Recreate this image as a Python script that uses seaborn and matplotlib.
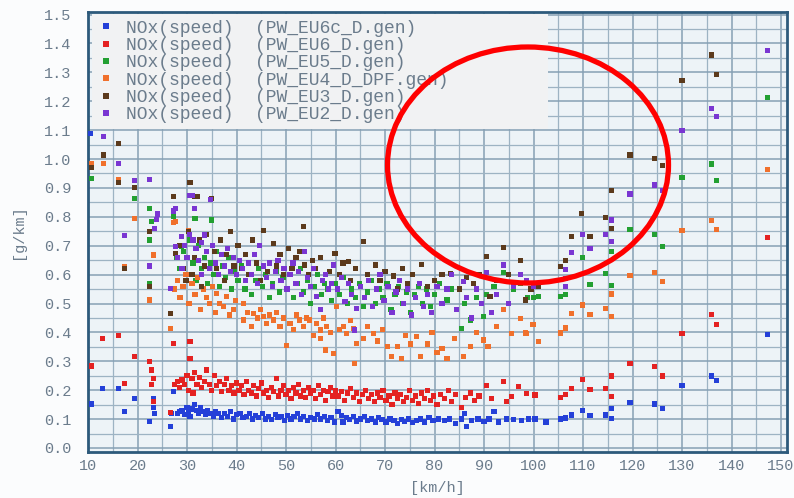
import matplotlib
matplotlib.use("Agg")
import matplotlib.pyplot as plt
import pandas as pd
import seaborn as sns
from matplotlib.patches import Ellipse
from matplotlib.ticker import MultipleLocator, FormatStrFormatter

series_names = [
    "NOx(speed)  (PW_EU6c_D.gen)",
    "NOx(speed)  (PW_EU6_D.gen)",
    "NOx(speed)  (PW_EU5_D.gen)",
    "NOx(speed)  (PW_EU4_D_DPF.gen)",
    "NOx(speed)  (PW_EU3_D.gen)",
    "NOx(speed)  (PW_EU2_D.gen)",
]
series_colors = ["#2440d8", "#e42222", "#23a032", "#f0702c", "#5c3a1c", "#7a36d2"]

# (speed km/h, NOx g/km)
eu6c = [
    (10.5, 1.089), (10.7, 0.152), (12.9, 0.207), (16.1, 0.207), (17.3, 0.126), (19.4, 0.172),
    (22.5, 0.091), (23.2, 0.17), (23.2, 0.14), (23.5, 0.12), (26.6, 0.074), (27.2, 0.195), (26.8, 0.118),
    (28, 0.12), (28.5, 0.125), (29, 0.13), (29.5, 0.115), (30, 0.14), (30.3, 0.125), (30.6, 0.11),
    (31, 0.135), (31.5, 0.15), (32, 0.13), (32.3, 0.12), (32.8, 0.14), (33.2, 0.125), (33.8, 0.115),
    (34.2, 0.13), (34.8, 0.12), (35.3, 0.11), (35.8, 0.125), (36.4, 0.118), (37, 0.105), (37.5, 0.12),
    (38.2, 0.11), (38.8, 0.125), (39.4, 0.1), (40, 0.115),
    (40.7, 0.12), (41.3, 0.105), (42, 0.11), (42.6, 0.118), (43.2, 0.1), (43.9, 0.112), (44.5, 0.105),
    (45.2, 0.12), (45.8, 0.1), (46.5, 0.11), (47.1, 0.098), (47.8, 0.115), (48.4, 0.105), (49, 0.11),
    (49.7, 0.095), (50.3, 0.112), (51, 0.1), (51.6, 0.108), (52.3, 0.118), (53, 0.1), (53.6, 0.11),
    (54.3, 0.095), (55, 0.105), (55.7, 0.1), (56.3, 0.115), (57, 0.1), (57.7, 0.108), (58.4, 0.095),
    (59.1, 0.105), (59.8, 0.09),
    (60.5, 0.125), (61.2, 0.112), (61.5, 0.09), (62.2, 0.105), (62.9, 0.098), (63.6, 0.11), (64.3, 0.093),
    (65, 0.1), (65.8, 0.108), (66.5, 0.095), (67.2, 0.1), (68, 0.09), (68.7, 0.105), (69.4, 0.098),
    (70.2, 0.09), (71, 0.1), (71.8, 0.095), (72.6, 0.085), (73.3, 0.098), (74, 0.092), (74.8, 0.1),
    (75.6, 0.088), (76.4, 0.095), (77.2, 0.1), (78, 0.09), (78.9, 0.105), (79.7, 0.095),
    (80.8, 0.1), (82, 0.095), (83, 0.1), (84.2, 0.085), (85.5, 0.1), (86, 0.12), (86.5, 0.073),
    (87.5, 0.095), (88.8, 0.1), (90, 0.092), (91, 0.1), (92, 0.125), (93, 0.09), (94.5, 0.1),
    (96, 0.098), (97.5, 0.095), (99, 0.1), (100.3, 0.1),
    (102.5, 0.09), (105.4, 0.1), (106.4, 0.104), (107.6, 0.114), (109.9, 0.129), (111.4, 0.111),
    (114.6, 0.114), (115.8, 0.137), (115.8, 0.103), (119.5, 0.158), (124.5, 0.152), (126.1, 0.137),
    (130, 0.215), (136, 0.249), (137, 0.233), (147.2, 0.393),
]
eu6 = [
    (10.7, 0.284), (12.9, 0.38), (16.1, 0.388), (17.3, 0.224), (19.4, 0.316), (22.5, 0.3), (22.8, 0.27),
    (23.2, 0.24), (22.8, 0.22), (23.2, 0.16), (26.6, 0.122), (27.2, 0.362), (30.6, 0.368),
    (27.5, 0.22), (28, 0.23), (28.5, 0.21), (29, 0.235), (29.5, 0.22), (30, 0.25), (30.3, 0.2),
    (30.6, 0.31), (31, 0.24), (31.2, 0.19), (31.5, 0.26), (32, 0.22), (32.5, 0.245), (33, 0.21),
    (33.5, 0.23), (34, 0.27), (34.5, 0.22), (35, 0.2), (35.5, 0.25), (36, 0.215), (36.5, 0.23),
    (37, 0.195), (37.5, 0.22), (38, 0.24), (38.5, 0.2), (39, 0.215), (39.5, 0.19), (40, 0.225),
    (40.5, 0.2), (41, 0.215), (41.5, 0.185), (42, 0.23), (42.5, 0.2), (43, 0.19), (43.5, 0.215),
    (44, 0.18), (44.5, 0.205), (45, 0.225), (45.5, 0.19), (46, 0.2), (46.5, 0.175), (47, 0.21),
    (47.5, 0.195), (48, 0.24), (48.5, 0.18), (49, 0.2), (49.5, 0.215), (50, 0.185), (50.5, 0.2),
    (51, 0.17), (51.5, 0.21), (52, 0.19), (52.5, 0.22), (53, 0.18), (53.5, 0.2), (54, 0.175),
    (54.5, 0.21), (55, 0.19), (55.5, 0.2), (56, 0.17), (56.5, 0.215), (57, 0.185), (57.5, 0.2),
    (58, 0.165), (58.5, 0.195), (59, 0.21), (59.5, 0.18),
    (60, 0.2), (60.6, 0.18), (61.2, 0.195), (61.8, 0.165), (62.4, 0.19), (63, 0.205), (63.6, 0.175),
    (64.2, 0.19), (64.8, 0.16), (65.4, 0.185), (66, 0.2), (66.6, 0.17), (67.2, 0.185), (67.8, 0.16),
    (68.4, 0.19), (69, 0.175), (69.6, 0.2), (70.2, 0.165), (70.8, 0.18), (71.4, 0.15), (72, 0.19),
    (72.6, 0.17), (73.2, 0.185), (73.8, 0.16), (74.4, 0.175), (75, 0.2), (75.6, 0.165), (76.2, 0.18),
    (76.8, 0.155), (77.4, 0.19), (78, 0.17), (78.6, 0.2), (79.2, 0.165), (79.8, 0.18),
    (80.5, 0.15), (81.2, 0.185), (82, 0.17), (82.8, 0.2), (83.5, 0.16), (84.3, 0.185), (85.5, 0.14),
    (86.3, 0.175), (87.2, 0.19), (88, 0.165), (89, 0.18), (90.5, 0.216), (91.5, 0.17), (93.9, 0.23),
    (94.5, 0.16), (95.6, 0.178), (96.9, 0.212), (98.6, 0.189), (100.3, 0.183),
    (105.4, 0.176), (106.4, 0.184), (107.6, 0.206), (109.9, 0.238), (111.4, 0.203), (114.6, 0.206),
    (115.8, 0.249), (115.8, 0.178), (119.5, 0.293), (124.5, 0.281), (126.1, 0.249), (130, 0.397),
    (136, 0.463), (137, 0.426), (147.2, 0.728),
]
eu5 = [
    (10.7, 0.933), (19.4, 0.864), (22.5, 0.829), (22.8, 0.785), (22.5, 0.72), (22.5, 0.57), (27.2, 0.8),
    (28.9, 0.697), (31.6, 0.795), (35, 0.789),
    (27.8, 0.66), (28.5, 0.62), (29.3, 0.68), (30, 0.6), (30.6, 0.72), (31.2, 0.64), (31.8, 0.58),
    (32.4, 0.7), (33, 0.62), (33.6, 0.66), (34.2, 0.57), (34.8, 0.64), (35.4, 0.6), (36, 0.68),
    (36.6, 0.56), (37.2, 0.63), (37.8, 0.59), (38.4, 0.66), (39, 0.55), (39.6, 0.61),
    (40.3, 0.58), (41, 0.63), (41.7, 0.55), (42.4, 0.6), (43.1, 0.53), (43.8, 0.58), (44.5, 0.62),
    (45.2, 0.56), (45.9, 0.6), (46.6, 0.52), (47.3, 0.57), (48, 0.61), (48.7, 0.54), (49.4, 0.59),
    (50.1, 0.55), (50.8, 0.6), (51.5, 0.52), (52.2, 0.57), (52.9, 0.62), (53.6, 0.54), (54.3, 0.58),
    (55, 0.5), (55.7, 0.56), (56.4, 0.6), (57.1, 0.53), (57.8, 0.57), (58.5, 0.55), (59.2, 0.51),
    (60, 0.57), (60.8, 0.53), (61.6, 0.59), (62.4, 0.5), (63.2, 0.55), (64, 0.52), (64.8, 0.57),
    (65.6, 0.49), (66.4, 0.54), (67.2, 0.58), (68, 0.5), (68.8, 0.55), (69.6, 0.52), (70.4, 0.57),
    (71.2, 0.48), (72, 0.53), (72.8, 0.56), (73.6, 0.5), (74.4, 0.54), (75.2, 0.47), (76, 0.53),
    (76.8, 0.56), (77.6, 0.5), (78.4, 0.55), (79.2, 0.49),
    (80, 0.53), (81, 0.57), (82.5, 0.512), (83.5, 0.55), (85.5, 0.414), (86, 0.5), (87.2, 0.443),
    (88.5, 0.52), (89.9, 0.454), (90.5, 0.53), (92, 0.56), (93.9, 0.607), (95, 0.5), (96, 0.55),
    (97.3, 0.57), (98.8, 0.52), (100, 0.52), (101, 0.525),
    (105.4, 0.524), (106.4, 0.53), (109.9, 0.66), (111.4, 0.567), (114.6, 0.604), (115.8, 0.679),
    (115.8, 0.561), (119.5, 0.757), (124.5, 0.74), (126.1, 0.697), (130, 0.937), (136, 0.983),
    (137, 0.927), (147.2, 1.212),
]
eu4_dpf = [
    (10.7, 0.983), (13.1, 0.985), (16.1, 0.93), (19.4, 0.795), (17.3, 0.627), (23.2, 0.668),
    (22.5, 0.512), (26.6, 0.414), (27.2, 0.78), (27.6, 0.783), (30.3, 0.754),
    (27.5, 0.55), (28, 0.58), (28.6, 0.52), (29.2, 0.56), (29.8, 0.6), (30.4, 0.5), (31, 0.57),
    (31.6, 0.53), (32.2, 0.59), (32.8, 0.48), (33.4, 0.55), (34, 0.52), (34.6, 0.5), (35.2, 0.56),
    (35.8, 0.47), (36, 0.535), (36.6, 0.5), (37.3, 0.489), (38, 0.524), (38.6, 0.46), (39.4, 0.478),
    (39.8, 0.51),
    (41.4, 0.5), (41.4, 0.443), (42.2, 0.47), (43, 0.42), (43.4, 0.466), (44.2, 0.45), (44.8, 0.48),
    (45.4, 0.454), (46, 0.43), (46.7, 0.46), (47.4, 0.443), (48, 0.47), (48.8, 0.42), (49.5, 0.45),
    (50.1, 0.356), (50.8, 0.431), (51.5, 0.41), (52.1, 0.46), (52.8, 0.443), (53.5, 0.42), (54.1, 0.45),
    (54.8, 0.443), (55.5, 0.39), (56.2, 0.43), (56.9, 0.408), (56.9, 0.38), (57.6, 0.45), (57.9, 0.339),
    (58.2, 0.42), (59, 0.4), (59.6, 0.328), (60.2, 0.489), (60.8, 0.41), (61.6, 0.42), (62.2, 0.397),
    (63, 0.44), (63.6, 0.414), (63.9, 0.293), (64.3, 0.362),
    (65.6, 0.38), (66.4, 0.42), (67.6, 0.397), (68.5, 0.37), (69.5, 0.41), (70.5, 0.35), (71.3, 0.316),
    (72.5, 0.35), (73.3, 0.31), (74.2, 0.39), (75.2, 0.36), (76.4, 0.385), (77.1, 0.316), (78.5, 0.36),
    (79.5, 0.4), (80.5, 0.33), (81.5, 0.345), (82.5, 0.31), (84, 0.38), (85.8, 0.316), (87.2, 0.35),
    (88.5, 0.4), (89.9, 0.374), (90.8, 0.35), (92.5, 0.42), (93.9, 0.48), (95.6, 0.397), (97.3, 0.449),
    (98.3, 0.398), (98.6, 0.397), (99.9, 0.426), (101, 0.368),
    (105.4, 0.398), (106.4, 0.415), (107.6, 0.466), (109.9, 0.495), (111.4, 0.463), (114.6, 0.483),
    (115.8, 0.454), (115.8, 0.533), (119.5, 0.598), (124.5, 0.607), (126.1, 0.576), (130, 0.752),
    (136, 0.787), (137, 0.757), (147.2, 0.964),
]
eu3 = [
    (10.7, 0.97), (13.1, 1.014), (16.1, 1.054), (16.1, 0.92), (19.4, 0.902), (17.3, 0.62), (22.5, 0.75),
    (22.5, 0.56), (26.6, 0.466), (27.2, 0.87), (27.6, 0.674), (30.6, 0.92), (31.6, 0.87), (32, 0.87),
    (34.8, 0.86), (35, 0.864),
    (28.5, 0.7), (29.2, 0.62), (29.8, 0.58), (30.3, 0.75), (31, 0.6), (31.5, 0.66), (32.5, 0.72),
    (33, 0.56), (33.5, 0.63), (34, 0.74), (35.5, 0.68), (36, 0.62), (36.8, 0.72), (37.5, 0.58),
    (38, 0.67), (38.8, 0.75), (39.5, 0.63),
    (40.3, 0.7), (41, 0.62), (41.8, 0.67), (42.5, 0.6), (43.3, 0.72), (44, 0.64), (44.8, 0.58),
    (45.4, 0.754), (46.3, 0.61), (47.4, 0.708), (48, 0.63), (48.8, 0.67), (49.5, 0.6), (50.5, 0.691),
    (51.2, 0.62), (52, 0.66), (52.8, 0.68), (53.5, 0.766), (53.8, 0.633), (54.5, 0.6), (55.3, 0.65),
    (56, 0.62), (57, 0.66), (58.8, 0.61), (59.9, 0.674), (60.8, 0.6), (61.5, 0.64), (62.6, 0.645),
    (63, 0.58), (64, 0.62), (65.6, 0.714),
    (66.5, 0.6), (68, 0.633), (69, 0.58), (70, 0.61), (71.7, 0.595), (72.5, 0.55), (73.5, 0.62),
    (74.5, 0.57), (75.5, 0.6), (77.4, 0.636), (78.5, 0.56), (80, 0.58), (81.5, 0.6), (83.3, 0.604),
    (85, 0.55), (86.5, 0.59), (87.8, 0.57), (89, 0.6), (90.5, 0.662), (91.2, 0.524), (92.5, 0.58),
    (93.9, 0.694), (95, 0.6), (97.3, 0.648), (98.3, 0.512), (99.5, 0.55), (101, 0.56),
    (105.4, 0.627), (106.4, 0.648), (107.6, 0.731), (109.7, 0.812), (111.4, 0.731), (114.6, 0.798),
    (115.8, 0.76), (115.8, 0.89), (119.5, 1.014), (124.5, 1.002), (126.1, 0.979), (130, 1.273),
    (136, 1.36), (137, 1.294),
]
eu2 = [
    (13.1, 1.077), (16.1, 0.985), (19.4, 0.925), (22.5, 0.93), (17.3, 0.734), (24, 0.81), (23.8, 0.79),
    (23.5, 0.76), (22.5, 0.63), (26.6, 0.553), (27.2, 0.82), (27.6, 0.829), (30.6, 0.875), (31, 0.875),
    (31.5, 0.829), (33.6, 0.737), (34.8, 0.86), (28.9, 0.731), (27.6, 0.697),
    (28, 0.66), (29, 0.62), (29.5, 0.7), (30, 0.66), (30.5, 0.74), (31.2, 0.72), (31.8, 0.69),
    (32.4, 0.65), (33, 0.71), (33, 0.6), (34, 0.68), (34.5, 0.62), (35.2, 0.7), (35.8, 0.64),
    (36.4, 0.6), (37, 0.67), (37.6, 0.63), (38.2, 0.69), (38.8, 0.61), (39.4, 0.66), (40, 0.6),
    (40.6, 0.65), (41.2, 0.62), (41.8, 0.58), (42.4, 0.64), (43, 0.6), (43.6, 0.67), (44.2, 0.57),
    (44.7, 0.702), (45.4, 0.63), (46, 0.59), (46.6, 0.64), (47.2, 0.56), (47.8, 0.61), (48.4, 0.65),
    (49, 0.58), (49.6, 0.62), (50.2, 0.55), (50.8, 0.6), (51.4, 0.64), (52, 0.57), (52.6, 0.61),
    (53.2, 0.53), (53.8, 0.679), (54.4, 0.59), (55, 0.56), (55.6, 0.62), (56.2, 0.524), (56.9, 0.478),
    (57.4, 0.58), (58, 0.6), (58.6, 0.55), (59.2, 0.57), (59.6, 0.633),
    (60.4, 0.55), (61.2, 0.59), (61.9, 0.506), (62.6, 0.57), (63.3, 0.53), (64.3, 0.483), (63.9, 0.408),
    (65, 0.56), (65.8, 0.52), (66.6, 0.58), (67.4, 0.49), (68.2, 0.55), (69, 0.6), (69.8, 0.51),
    (70.6, 0.56), (71.4, 0.47), (72.2, 0.54), (73, 0.58), (73.8, 0.5), (74.6, 0.55), (75.4, 0.46),
    (76.2, 0.52), (77, 0.57), (77.8, 0.49), (78.6, 0.53), (79.4, 0.47),
    (80.5, 0.56), (81.5, 0.5), (82.5, 0.55), (83.5, 0.6), (84.5, 0.48), (85.8, 0.576), (86.5, 0.52),
    (87.5, 0.45), (88.5, 0.55), (89.5, 0.5), (90.5, 0.607), (91.5, 0.47), (92.5, 0.53), (93.9, 0.633),
    (95, 0.5), (96, 0.56), (97.3, 0.6), (98.5, 0.58), (100, 0.56),
    (106.4, 0.558), (106.4, 0.587), (106.5, 0.618), (107.6, 0.677), (109.9, 0.74), (111.4, 0.691),
    (114.6, 0.74), (115.8, 0.715), (115.8, 0.789), (119.5, 0.879), (124.5, 0.91), (126.1, 0.89),
    (130, 1.10), (136, 1.175), (137, 1.146), (147.2, 1.377),
]

frames = []
for name, pts in zip(series_names, [eu6c, eu6, eu5, eu4_dpf, eu3, eu2]):
    d = pd.DataFrame(pts, columns=["speed", "nox"])
    d["vehicle"] = name
    frames.append(d)
data = pd.concat(frames, ignore_index=True)

sns.set_style("white")
plt.rcParams["font.family"] = ["Liberation Mono", "DejaVu Sans Mono"]

text_col = "#6b7c8c"
frame_col = "#2d5a7b"

fig = plt.figure(figsize=(7.94, 4.98), dpi=100, facecolor="#fbfcfd")
ax = fig.add_axes([88 / 794, 1 - 452 / 498, 699 / 794, 440 / 498])
ax.set_facecolor("#edf3f7")

sns.scatterplot(data=data, x="speed", y="nox", hue="vehicle", hue_order=series_names,
                palette=series_colors, marker="s", s=14, linewidth=0, ax=ax, zorder=3)

ax.set_xlim(10, 151.2)
ax.set_ylim(-0.014, 1.509)
ax.xaxis.set_major_locator(MultipleLocator(10))
ax.xaxis.set_minor_locator(MultipleLocator(5))
ax.yaxis.set_major_locator(MultipleLocator(0.1))
ax.yaxis.set_minor_locator(MultipleLocator(0.05))
ax.yaxis.set_major_formatter(FormatStrFormatter("%.1f"))
ax.set_axisbelow(True)
ax.grid(which="major", color="#86a0b4", linewidth=1.1)
ax.grid(which="minor", color="#9db3c3", linewidth=0.9)
ax.tick_params(which="both", direction="in", color=frame_col, labelcolor=text_col, labelsize=11)
ax.tick_params(which="major", length=5)
ax.tick_params(which="minor", length=3)
ax.tick_params(axis="y", pad=12)
ax.tick_params(axis="x", pad=5)
for sp in ax.spines.values():
    sp.set_color(frame_col)
    sp.set_linewidth(2)

ax.set_xlabel("[km/h]", fontsize=11, color=text_col, labelpad=6)
ax.set_ylabel("[g/km]", fontsize=11, color=text_col, labelpad=14)

handles, labels = ax.get_legend_handles_labels()
for h in handles:
    h.set_markersize(4)
leg = ax.legend(handles, labels, loc="upper left", bbox_to_anchor=(0.006, 0.0, 0.652, 0.995),
                mode="expand", fontsize=13, labelspacing=0.02, handlelength=0.9, handletextpad=0.7,
                borderpad=0.3, borderaxespad=0, frameon=True, fancybox=False)
leg.get_frame().set_facecolor("#f1f2f3")
leg.get_frame().set_edgecolor("none")
leg.get_frame().set_alpha(1)
for t in leg.get_texts():
    t.set_color(text_col)

ring = Ellipse((528 / 794, 1 - 165 / 498), 281 / 794, 236 / 498, transform=fig.transFigure,
               fill=False, edgecolor="#ff0000", linewidth=3.8, zorder=10)
fig.add_artist(ring)

fig.savefig("out.png", dpi=100, facecolor=fig.get_facecolor())
